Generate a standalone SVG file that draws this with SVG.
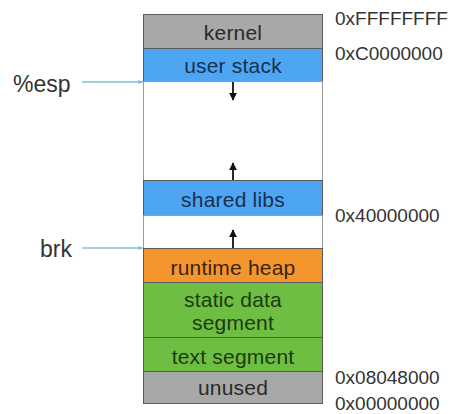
<svg xmlns="http://www.w3.org/2000/svg" width="454" height="414" viewBox="0 0 454 414">
  <style>
    .seg { stroke: #5a5a5a; stroke-width: 1; }
    .gap { fill: #ffffff; stroke: #9a9a9a; stroke-width: 1; }
    .lbl { font-family: "Liberation Sans", Arial, sans-serif; font-size: 21px; text-anchor: middle; letter-spacing: 0.2px; }
    .addr { font-family: "Liberation Sans", Arial, sans-serif; font-size: 19px; fill: #333333; }
    .ptr { font-family: "Liberation Sans", Arial, sans-serif; font-size: 23px; fill: #333333; }
    .grow { stroke: #111111; stroke-width: 1.8; fill: none; }
    .ptrline { stroke: #7ec0e0; stroke-width: 1.3; fill: none; }
  </style>
  <defs>
    <marker id="ah" viewBox="0 0 10 10" refX="9" refY="5" markerWidth="4.5" markerHeight="4.5" orient="auto">
      <path d="M0,0 L10,5 L0,10 z" fill="#111111"/>
    </marker>
    <marker id="ahb" viewBox="0 0 10 10" refX="9" refY="5" markerWidth="4" markerHeight="4" orient="auto">
      <path d="M0,1 L10,5 L0,9 z" fill="#7ec0e0"/>
    </marker>
  </defs>
  <rect width="454" height="414" fill="#ffffff"/>

  <g id="kernel">
    <rect class="seg" x="143.5" y="14.5" width="179" height="34" fill="#a8a8a8"/>
    <text class="lbl" x="233" y="40" fill="#2a2a2a">kernel</text>
  </g>
  <g id="user-stack">
    <rect class="seg" x="143.5" y="48.5" width="179" height="33" fill="#4ea6f2"/>
    <text class="lbl" x="233" y="73" fill="#17304f">user stack</text>
  </g>
  <g id="gap-top">
    <rect class="gap" x="143.5" y="81.5" width="179" height="99"/>
  </g>
  <g id="shared-libs">
    <rect class="seg" x="143.5" y="180.5" width="179" height="35" fill="#4ea6f2"/>
    <text class="lbl" x="233" y="207" fill="#17304f">shared libs</text>
  </g>
  <g id="gap-mid">
    <rect class="gap" x="143.5" y="215.5" width="179" height="33"/>
  </g>
  <g id="runtime-heap">
    <rect class="seg" x="143.5" y="248.5" width="179" height="34" fill="#f5952e"/>
    <text class="lbl" x="233" y="275" fill="#3a2410">runtime heap</text>
  </g>
  <g id="static-data">
    <rect class="seg" x="143.5" y="282.5" width="179" height="55" fill="#6dbe42"/>
    <text class="lbl" x="233" y="307" fill="#1d3a10">static data</text>
    <text class="lbl" x="233" y="330" fill="#1d3a10">segment</text>
  </g>
  <g id="text-segment">
    <rect class="seg" x="143.5" y="337.5" width="179" height="34" fill="#6dbe42"/>
    <text class="lbl" x="233" y="364" fill="#1d3a10">text segment</text>
  </g>
  <g id="unused">
    <rect class="seg" x="143.5" y="371.5" width="179" height="32" fill="#a8a8a8"/>
    <text class="lbl" x="233" y="395" fill="#2a2a2a">unused</text>
  </g>

  <g id="addresses">
    <text class="addr" x="335" y="25">0xFFFFFFFF</text>
    <text class="addr" x="335" y="60">0xC0000000</text>
    <text class="addr" x="335" y="222">0x40000000</text>
    <text class="addr" x="335" y="384">0x08048000</text>
    <text class="addr" x="335" y="410">0x00000000</text>
  </g>

  <g id="esp">
    <text class="ptr" x="13" y="92">%esp</text>
  </g>
  <g id="brk">
    <text class="ptr" x="40" y="257">brk</text>
  </g>

  <g id="connectors">
    <line class="ptrline" x1="82" y1="82" x2="143" y2="82" marker-end="url(#ahb)"/>
    <line class="ptrline" x1="82" y1="248" x2="143" y2="248" marker-end="url(#ahb)"/>
    <line class="grow" x1="233" y1="82" x2="233" y2="100" marker-end="url(#ah)"/>
    <line class="grow" x1="233" y1="180" x2="233" y2="163" marker-end="url(#ah)"/>
    <line class="grow" x1="233" y1="248" x2="233" y2="230" marker-end="url(#ah)"/>
  </g>
</svg>
